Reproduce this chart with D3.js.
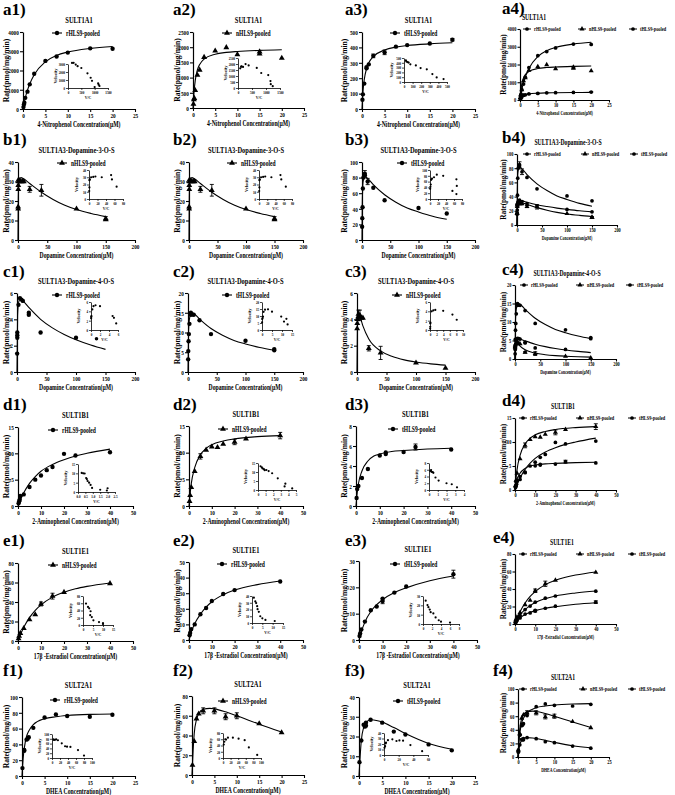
<!DOCTYPE html>
<html><head><meta charset="utf-8">
<script src="https://cdn.jsdelivr.net/npm/d3@7"></script>
<style>
body{margin:0;background:#fff}
svg{display:block}
text{font-family:"Liberation Serif","Times New Roman",serif;font-weight:bold;fill:#000}
</style></head><body>
<svg id="c" width="675" height="795"></svg>
<script>
// ---------------- tick labels ----------------
const T_X25=[0,5,10,15,20,25], T_X200=[0,50,100,150,200], T_X50=[0,10,20,30,40,50];
const T_Y4000=[0,1000,2000,3000,4000], T_Y2500=[0,500,1000,1500,2000,2500], T_Y500=[0,100,200,300,400,500];
const T_Y40=[0,10,20,30,40], T_Y100=[0,20,40,60,80,100], T_Y6=[0,2,4,6], T_Y20=[0,5,10,15,20];
const T_Y15=[0,5,10,15], T_Y8=[0,2,4,6,8], T_Y80=[0,20,40,60,80], T_Y50=[0,10,20,30,40,50], T_Y30=[0,10,20,30];
const I_X1500=[0,500,1000,1500], I_Y3000=[0,1000,2000,3000], I_X80=[0,20,40,60,80], I_X6=[0,2,4,6], I_X15=[0,5,10,15];
const I_X10=[0,2,4,6,8,10], I_X25=[0,0.5,1,1.5,2,2.5], I_X5=[0,1,2,3,4,5], I_X4=[0,1,2,3,4], I_X8=[0,2,4,6,8];
const I_X100=[0,20,40,60,80,100], I_X60=[0,20,40,60];
const LBL_R="rHLS9-pooled", LBL_N="nHLS9-pooled", LBL_T="tHLS9-pooled";

// ---------------- SULT1A1 (4-Nitrophenol) ----------------
const a_r_pts=[[0.1,100],[0.2,230],[0.3,330],[0.5,580],[1,900],[1.5,1280],[2.5,1830],[5,2500],[7.5,2730],[10,2930],[15,3150],[20,3130]];
const a_r_fit=[[0,0],[0.25,300],[0.5,570],[1,980],[1.5,1300],[2.5,1780],[5,2450],[7.5,2780],[10,2960],[15,3150],[20,3250]];
const a_r_vc=[[150,3130],[210,3150],[290,2930],[360,2730],[500,2500],[730,1830],[850,1280],[900,900],[1000,120],[1130,580],[1150,420],[1180,250]];
const a_n_pts=[[0.1,130],[0.2,280],[0.3,320],[0.5,580],[1,1080],[1.5,1250],[2.5,1670],[5,1880],[7.5,1990],[10,1760],[15,1780],[15,1850],[20,1640]];
const a_n_fit=[[0,0],[0.25,560],[0.5,900],[1,1260],[1.5,1430],[2.5,1610],[5,1770],[7.5,1830],[10,1860],[15,1895],[20,1915]];
const a_n_vc=[[80,1640],[110,1780],[130,1800],[180,1760],[270,1990],[380,1880],[670,1670],[830,1250],[1080,1080],[1160,580],[1170,320],[1240,150]];
const a_t_pts=[[0.1,60],[0.2,95],[0.5,165],[1,265],[1,272],[1.5,290],[2.5,345,12],[5,368,15],[7.5,405],[10,415],[15,425],[20,450,8]];
const a_t_fit=[[0,0],[0.1,60],[0.25,125],[0.5,190],[1,262],[1.5,300],[2.5,340],[5,383],[7.5,402],[10,412],[15,423],[20,430]];
const a_t_vc=[[22,450],[28,425],[42,415],[54,405],[74,368],[138,345],[193,290],[265,265],[330,165],[380,95],[460,60]];

// ---------------- SULT1A3 Dopamine-3-O-S ----------------
const b_r_pts=[[0.25,15],[0.5,21],[1,27],[2.5,33],[5,35],[10,33],[20,30],[40,27],[100,22],[150,18.5]];
const b_r_fit=[[0,0],[0.5,24],[1,29],[2.5,33.5],[5,34.5],[10,34],[20,32],[40,28.5],[60,26],[80,23.8],[100,22],[125,20],[150,18.5]];
const b_n_pts=[[0.25,16],[0.25,17],[0.5,26],[0.5,28],[1,30],[1,31],[2.5,30.5],[5,30],[7.5,30],[10,30],[20,26,1.5],[40,25.5,3],[100,16],[150,11,1],[150,10.5]];
const b_n_fit=[[0,0],[0.5,22],[1,27],[2,30.5],[5,32],[10,31.3],[20,29],[40,24.5],[60,20.8],[80,17.8],[100,15.6],[125,13.6],[150,12]];
const b_n_vc=[[0.5,11],[1,16],[1,26],[2,27],[5,30],[10,30.5],[15,31],[30,30],[52,33],[54,27],[65,17]];
const b_t_pts=[[0.25,17],[0.5,28],[1,42],[1.5,66],[2.5,80],[5,85,4],[5,83],[10,75,4],[20,67],[40,51],[100,41],[150,34]];
const b_t_fit=[[0,0],[0.5,45],[1,62],[2,75],[5,81],[10,79],[20,71],[40,58],[60,48.5],[80,41],[100,36],[125,30.5],[150,26.5]];
const b_t_vc=[[0.5,35],[1,42],[2,50],[3,66],[5,70],[10,75],[17,84],[33,80],[56,28],[66,68],[67,45],[66,17]];

// ---------------- SULT1A3 Dopamine-4-O-S ----------------
const c_r_pts=[[0.25,1.4],[0.5,2.6],[0.5,2.8],[0.5,3.0],[2.5,5.1],[5,5.6],[7.5,5.5],[10,5.4],[20,4.5],[20,4.35],[40,3.0],[100,2.6]];
const c_r_fit=[[0,0],[1,4.3],[2.5,5.2],[5,5.55],[10,5.4],[20,4.9],[40,4.0],[60,3.35],[80,2.85],[100,2.45],[125,2.05],[150,1.72]];
const c_r_vc=[[0.03,2.5],[0.05,2.8],[0.1,3.0],[0.3,4.4],[0.55,5.1],[1.0,5.3],[2.0,5.1],[4.8,3.0],[5.1,2.6],[5.6,1.4]];
const c_n_pts=[[0.25,3.3],[0.5,3.7],[1,4.0],[2,4.2],[2.5,4.4,0.3],[5,4.3,0.4],[7.5,4.1],[10,4.1],[20,1.8,0.2],[40,1.45,0.5],[100,0.7],[150,0.3]];
const c_n_fit=[[0,0],[1,3.9],[2.5,4.3],[5,4.2],[10,3.5],[20,2.5],[40,1.6],[60,1.17],[80,0.92],[100,0.76],[125,0.62],[150,0.52]];
const c_n_vc=[[0.05,0.3],[0.08,0.7],[0.1,1.4],[0.12,1.6],[0.5,4.0],[1,4.2],[1.6,4.3],[4,4.1],[6.8,3.3],[8.1,2.2]];
const c_t_pts=[[0.25,3.2],[0.5,5.3],[1,7.8],[1.5,9.6],[2.5,12.2],[5,14.5],[5,15],[7.5,14.6],[10,14.5],[20,13.1],[40,9.6],[100,7.9],[150,5.5],[150,5.8]];
const c_t_fit=[[0,0],[1,10.5],[2.5,13.4],[5,14.6],[10,14.7],[20,13.4],[40,11],[60,9.3],[80,8],[100,7.1],[125,6.2],[150,5.5]];
const c_t_vc=[[0.05,5.5],[0.1,7.8],[0.3,8.5],[0.5,9.6],[0.8,13],[1.5,14.5],[3,14.8],[5,13.1],[9.6,9.6],[11,6],[12.2,8],[12.8,4]];

// ---------------- SULT1B1 (2-Aminophenol) ----------------
const d_r_pts=[[0.25,0.5],[0.5,0.9],[0.75,1.2],[1,1.9],[2.5,2.2],[5,3.6],[7.5,5.0],[10,5.8],[12.5,6.8],[15,7.4],[20,9.9],[25,9.6],[40,10.2]];
const d_r_fit=[[0,0],[1,1.1],[2.5,2.5],[5,4.3],[7.5,5.6],[10,6.6],[15,7.9],[20,8.8],[25,9.5],[30,10],[40,10.8]];
const d_r_vc=[[0.25,10.2],[0.35,10],[0.45,9.9],[0.55,7.5],[0.6,6.9],[0.65,5.9],[0.75,5],[0.85,3.8],[0.95,2.2],[1.5,1.2],[1.95,0.8],[2.0,2.0]];
const d_n_pts=[[0.25,0.9],[0.5,2],[1,3.5],[2.5,6.5],[5,9.3,0.5],[7.5,10.5],[10,11.1],[12.5,11],[15,11.6],[20,12,0.5],[25,12.6],[40,13.2,0.6]];
const d_n_fit=[[0,0],[0.5,2.3],[1,4.2],[2.5,7.2],[5,9.6],[7.5,10.8],[10,11.5],[15,12.2],[20,12.6],[30,13],[40,13.2]];
const d_n_vc=[[0.33,13.2],[0.5,12.6],[0.6,12],[0.77,11.6],[0.88,11],[1.1,11.1],[1.4,10.5],[1.86,9.3],[2.6,6.5],[3.5,2.0],[3.6,3.5],[4.5,0.9]];
const d_t_pts=[[0.25,0.8],[0.5,1.7],[1,2.0],[2.5,2.8],[5,3.7],[10,5.05],[12.5,5.2],[12.5,5.35],[20,5.4],[25,5.9,0.3],[40,5.65]];
const d_t_fit=[[0,0],[0.5,1.3],[1,2.2],[2.5,3.5],[5,4.5],[7.5,5],[10,5.2],[15,5.45],[20,5.55],[30,5.7],[40,5.78]];
const d_t_vc=[[0.15,5.65],[0.24,5.9],[0.28,5.4],[0.42,5.3],[0.5,5.1],[0.74,3.7],[1.1,2.8],[2.0,2.0],[2.6,1.7],[3.2,0.8]];

// ---------------- SULT1E1 (17β-Estradiol) ----------------
const e_r_pts=[[0.25,3],[0.5,4.5],[1,7],[2.5,10],[5,16.5],[7.5,20.5],[10,25],[15,29.5],[20,32],[40,37.5]];
const e_r_fit=[[0,0],[1,5],[2.5,10.5],[5,16.5],[7.5,21],[10,24.5],[15,29],[20,32],[30,35.5],[40,37.8]];
const e_r_vc=[[0.9,37.5],[1.6,32],[2,29.5],[2.5,25],[2.7,20.5],[3.3,16.5],[4,10],[5,7],[6.5,4.5],[11,3]];
const e_n_pts=[[0.25,2.5],[0.5,5],[1,8],[2.5,13],[5,22],[7.5,27],[10,38,2],[15,46,3],[20,50],[40,59]];
const e_n_fit=[[0,0],[1,6],[2.5,14],[5,24],[7.5,31.5],[10,37],[15,45],[20,50],[25,53.5],[30,56],[40,59.5]];
const e_n_vc=[[1.5,59],[2.5,50],[3.1,46],[3.8,38],[3.6,27],[4.4,22],[5.2,13],[8,8],[10,5],[10,2.5]];
const e_t_pts=[[0.25,1.5],[0.5,2.5],[1,4],[2.5,7],[5,11.3],[7.5,12.7],[10,14.8,1],[10,15.7],[15,18],[20,20.3],[40,25,1.5]];
const e_t_fit=[[0,0],[1,3.2],[2.5,6.8],[5,10.8],[7.5,13.4],[10,15.3],[15,18],[20,19.8],[30,22.5],[40,24.3]];
const e_t_vc=[[0.6,25],[1,20.3],[1.2,18],[1.5,15.5],[1.7,12.7],[2.3,11.3],[2.8,7],[3.5,4],[4,2.5],[6,1.5]];

// ---------------- SULT2A1 (DHEA) ----------------
const f_r_pts=[[0.1,10],[0.5,33],[0.5,32],[1,46],[1.25,47],[1.5,49],[2.5,61],[5,74],[7.5,78],[10,76],[15,75],[20,77.5]];
const f_r_fit=[[0,0],[0.25,22],[0.5,35],[1,50],[1.5,57],[2.5,65],[5,72.5],[7.5,75],[10,76.5],[15,78],[20,78.5]];
const f_r_vc=[[3.9,77.5],[5,75],[7.6,76],[10.4,78],[14.8,74],[24.4,61],[32.7,49],[37.6,47],[46,46],[65,33],[80,10]];
const f_n_pts=[[0.1,10],[0.5,34],[1,57],[1.5,62],[2.5,65,3],[5,65,3],[7.5,59,3],[10,60,3],[15,52],[20,43]];
const f_n_fit=[[0,0],[0.25,25],[0.5,42],[1,56],[1.5,62],[2.5,66.5],[4,67.5],[5,67],[7.5,64],[10,60],[15,51.5],[20,43.5]];
const f_n_vc=[[2,43],[3.5,52],[6,60],[8,59],[13,65],[26,65],[41,62],[57,57],[68,34],[90,10]];
const f_t_pts=[[0.1,7],[0.5,18],[1,26],[1.25,25],[1.5,27],[1.5,25.5],[2.5,28.5],[5,27],[7.5,22.5],[10,21],[15,16],[20,13]];
const f_t_fit=[[0,0],[0.25,10],[0.5,18],[1,24.5],[1.5,27],[2.5,28.5],[4,28],[5,27.3],[7.5,24.5],[10,21.5],[15,16.5],[20,13.5]];
const f_t_vc=[[0.7,13],[1.5,16],[2.1,21],[2.7,22.5],[5.4,27],[11.4,28.5],[17,25.5],[21,26.5],[26,26],[36,18],[52,7]];

// ---------------- series ----------------
const S=(name,shape,pts,fit)=>({name,shape,pts,fit});
const A_r=S(LBL_R,"circle",a_r_pts,a_r_fit), A_n=S(LBL_N,"tri",a_n_pts,a_n_fit), A_t=S(LBL_T,"circle",a_t_pts,a_t_fit);
const B_r=S(LBL_R,"circle",b_r_pts,b_r_fit), B_n=S(LBL_N,"tri",b_n_pts,b_n_fit), B_t=S(LBL_T,"circle",b_t_pts,b_t_fit);
const C_r=S(LBL_R,"circle",c_r_pts,c_r_fit), C_n=S(LBL_N,"tri",c_n_pts,c_n_fit), C_t=S(LBL_T,"circle",c_t_pts,c_t_fit);
const D_r=S(LBL_R,"circle",d_r_pts,d_r_fit), D_n=S(LBL_N,"tri",d_n_pts,d_n_fit), D_t=S(LBL_T,"circle",d_t_pts,d_t_fit);
const E_r=S(LBL_R,"circle",e_r_pts,e_r_fit), E_n=S(LBL_N,"tri",e_n_pts,e_n_fit), E_t=S(LBL_T,"circle",e_t_pts,e_t_fit);
const F_r=S(LBL_R,"circle",f_r_pts,f_r_fit), F_n=S(LBL_N,"tri",f_n_pts,f_n_fit), F_t=S(LBL_T,"circle",f_t_pts,f_t_fit);

const XT_A="4-Nitrophenol Concentration(μM)", XT_B="Dopamine Concentration(μM)", XT_D="2-Aminophenol Concentration(μM)",
      XT_E="17β -Estradiol Concentration(μM)", XT_F="DHEA Concentration(μM)";
const TI_A="SULT1A1", TI_B="SULT1A3-Dopamine-3-O-S", TI_C="SULT1A3-Dopamine-4-O-S", TI_D="SULT1B1", TI_E="SULT1E1", TI_F="SULT2A1";

// ---------------- layout ----------------
const YTX=[6,177,344,503];
const panels=[
 {lab:"a1)",lp:[3,15],box:[23,32,135,109],xt:T_X25,yt:T_Y4000,ti:TI_A,xti:XT_A,ser:[A_r],leg:[57,33],col:0,
  ins:{box:[68,64,108,88],xt:I_X1500,yt:I_Y3000,d:a_r_vc}},
 {lab:"a2)",lp:[173,15],box:[193,32,304,108],xt:T_X25,yt:T_Y2500,ti:TI_A,xti:XT_A,ser:[A_n],leg:[227,33],col:1,
  ins:{box:[238,58,280,88],xt:I_X1500,yt:T_Y2500,d:a_n_vc}},
 {lab:"a3)",lp:[345,15],box:[362,32,475,109],xt:T_X25,yt:T_Y500,ti:TI_A,xti:XT_A,ser:[A_t],leg:[395,33],col:2,
  ins:{box:[404,58,447,82],xt:T_Y500,yt:T_Y500,d:a_t_vc}},
 {lab:"a4)",lp:[502,14],box:[520,29,609,100],xt:T_X25,yt:T_Y4000,ti:TI_A,tx:534,xti:XT_A,ser:[A_r,A_n,A_t],legY:29,legX:[527,582,633],col:3},

 {lab:"b1)",lp:[3,145],box:[18,162,135,240],xt:T_X200,yt:T_Y40,ti:TI_B,xti:XT_B,ser:[B_n],leg:[62,163],col:0,
  ins:{box:[89,170,123,199],xt:I_X80,yt:T_Y40,d:b_n_vc}},
 {lab:"b2)",lp:[173,145],box:[189,162,303,240],xt:T_X200,yt:T_Y40,ti:TI_B,xti:XT_B,ser:[B_n],leg:[232,163],col:1,
  ins:{box:[259,170,292,199],xt:I_X80,yt:T_Y40,d:b_n_vc}},
 {lab:"b3)",lp:[345,145],box:[362,162,475,240],xt:T_X200,yt:T_Y100,ti:TI_B,xti:XT_B,ser:[B_t],leg:[402,163],col:2,
  ins:{box:[430,170,462,199],xt:I_X80,yt:T_Y100,d:b_t_vc}},
 {lab:"b4)",lp:[502,143],box:[517,154,617,225],xt:T_X200,yt:T_Y100,ti:TI_B,tx:568,xti:XT_B,ser:[B_r,B_n,B_t],legY:154,legX:[527,585,634],col:3},

 {lab:"c1)",lp:[3,277],box:[17,293,135,372],xt:T_X200,yt:T_Y6,ti:TI_C,xti:XT_B,ser:[C_r],leg:[57,295],col:0,
  ins:{box:[91,302,118,330],xt:I_X6,yt:T_Y6,d:c_r_vc,vcMark:true}},
 {lab:"c2)",lp:[173,277],box:[188,293,303,372],xt:T_X200,yt:T_Y20,ti:TI_C,xti:XT_B,ser:[C_t],leg:[227,295],col:1,
  ins:{box:[262,302,292,330],xt:I_X15,yt:T_Y20,d:c_t_vc}},
 {lab:"c3)",lp:[345,277],box:[357,293,475,372],xt:T_X200,yt:T_Y6,ti:TI_C,xti:XT_B,ser:[C_n],leg:[397,295],col:2,
  ins:{box:[430,302,463,330],xt:I_X10,yt:T_Y6,d:c_n_vc}},
 {lab:"c4)",lp:[502,275],box:[515,285,616,359],xt:T_X200,yt:T_Y20,ti:TI_C,tx:567,xti:XT_B,ser:[C_r,C_n,C_t],legY:285,legX:[524,580,630],col:3},

 {lab:"d1)",lp:[3,410],box:[18,427,133,506],xt:T_X50,yt:T_Y15,ti:TI_D,xti:XT_D,ser:[D_r],leg:[53,430],col:0,
  ins:{box:[78,464,115,492],xt:I_X25,xf:".1f",yt:T_Y15,d:d_r_vc}},
 {lab:"d2)",lp:[173,410],box:[189,426,303,506],xt:T_X50,yt:T_Y15,ti:TI_D,xti:XT_D,ser:[D_n],leg:[223,429],col:1,
  ins:{box:[258,463,296,490],xt:I_X5,yt:T_Y15,d:d_n_vc}},
 {lab:"d3)",lp:[345,410],box:[356,426,475,506],xt:T_X50,yt:T_Y8,ti:TI_D,xti:XT_D,ser:[D_t],leg:[393,429],col:2,
  ins:{box:[429,463,464,490],xt:I_X4,yt:T_Y8,d:d_t_vc}},
 {lab:"d4)",lp:[502,406],box:[515,418,616,490],xt:T_X50,yt:T_Y15,ti:TI_D,tx:563,xti:XT_D,ser:[D_r,D_n,D_t],legY:418,legX:[523,580,632],col:3},

 {lab:"e1)",lp:[3,546],box:[18,563,133,641],xt:T_X50,yt:T_Y80,ti:TI_E,xti:XT_E,ser:[E_n],leg:[53,565],col:0,
  ins:{box:[83,596,113,625],xt:I_X15,yt:T_Y80,d:e_n_vc}},
 {lab:"e2)",lp:[173,546],box:[189,562,303,640],xt:T_X50,yt:T_Y50,ti:TI_E,xti:XT_E,ser:[E_r],leg:[222,564],col:1,
  ins:{box:[252,596,283,623],xt:I_X15,yt:T_Y40,d:e_r_vc}},
 {lab:"e3)",lp:[345,546],box:[359,561,477,640],xt:T_X50,yt:T_Y30,ti:TI_E,xti:XT_E,ser:[E_t],leg:[395,564],col:2,
  ins:{box:[423,596,459,624],xt:I_X8,yt:T_Y30,d:e_t_vc}},
 {lab:"e4)",lp:[493,543],box:[515,554,616,624],xt:T_X50,yt:T_Y80,ti:TI_E,tx:562,xti:XT_E,ser:[E_r,E_n,E_t],legY:554,legX:[523,580,632],col:3},

 {lab:"f1)",lp:[3,676],box:[22,697,135,776],xt:T_X25,yt:T_Y100,ti:TI_F,xti:XT_F,ser:[F_r],leg:[55,700],col:0,
  ins:{box:[52,734,92,758],xt:I_X100,yt:T_Y100,d:f_r_vc}},
 {lab:"f2)",lp:[173,676],box:[192,696,304,775],xt:T_X25,yt:T_Y80,ti:TI_F,xti:XT_F,ser:[F_n],leg:[223,701],col:1,
  ins:{box:[223,733,261,758],xt:I_X100,yt:T_Y80,d:f_n_vc}},
 {lab:"f3)",lp:[345,676],box:[359,697,475,776],xt:T_X25,yt:T_Y40,ti:TI_F,xti:XT_F,ser:[F_t],leg:[398,701],col:2,
  ins:{box:[384,733,428,755],xt:I_X60,yt:T_Y40,d:f_t_vc}},
 {lab:"f4)",lp:[493,676],box:[518,689,609,757],xt:T_X25,yt:T_Y100,ti:TI_F,tx:563,xti:XT_F,ser:[F_r,F_n,F_t],legY:689,legX:[523,583,632],col:3}
];

// ---------------- drawing ----------------
const svg=d3.select("#c");
const CZ=0.75;

function symPath(shape,size){
  return d3.symbol().type(shape==="tri"?d3.symbolTriangle:d3.symbolCircle).size(size)();
}
function styleAxis(a,fs,sw){
  a.attr("font-size",null).attr("font-family",null);
  a.selectAll("text").attr("class","cz").style("font-size",fs+"px");
  a.select(".domain").attr("stroke-width",sw);
  a.selectAll(".tick line").attr("stroke-width",sw*0.9);
}
function fmt(f){return f?d3.format(f):d3.format("d");}

function drawPanel(p){
  const [L,T,R,B]=p.box;
  const small=p.col===3;
  const x=d3.scaleLinear().domain([p.xt[0],p.xt[p.xt.length-1]]).range([L,R]);
  const y=d3.scaleLinear().domain([p.yt[0],p.yt[p.yt.length-1]]).range([B,T]);
  const g=svg.append("g");
  const fsT=small?5.8:7, fsAx=small?5.2:7.6, fsTi=small?7.6:8.6, fsLeg=small?5.8:7.4;

  const xa=g.append("g").attr("transform",`translate(0,${B})`)
    .call(d3.axisBottom(x).tickValues(p.xt).tickSize(small?2.5:3).tickSizeOuter(0).tickPadding(small?0.8:1.2).tickFormat(fmt()));
  const ya=g.append("g").attr("transform",`translate(${L},0)`)
    .call(d3.axisLeft(y).tickValues(p.yt).tickSize(small?2.5:3).tickSizeOuter(0).tickPadding(1.2).tickFormat(fmt()));
  styleAxis(xa,fsT,1.2); styleAxis(ya,fsT,1.2);

  // panel label
  svg.append("text").attr("x",p.lp[0]).attr("y",p.lp[1]).style("font-size","17px").text(p.lab);
  // title
  svg.append("text").attr("class","cz").attr("x",p.tx||(L+R)/2).attr("y",T-9).attr("text-anchor","middle")
     .style("font-size",fsTi+"px").text(p.ti);
  // axis titles
  svg.append("text").attr("class","cz").attr("x",(L+R)/2).attr("y",B+(small?14.5:18)).attr("text-anchor","middle")
     .style("font-size",fsAx+"px").text(p.xti);
  svg.append("text").attr("transform",`translate(${YTX[p.col]},${(T+B)/2}) rotate(-90)`).attr("text-anchor","middle")
     .attr("dy","0.35em").style("font-size",(small?7.2:7.6)+"px").text("Rate(pmol/mg/min)");

  const line=d3.line().x(d=>x(d[0])).y(d=>y(d[1])).curve(d3.curveMonotoneX);
  const msz=small?11:15;
  p.ser.forEach(s=>{
    g.append("path").attr("d",line(s.fit)).attr("fill","none").attr("stroke","#000").attr("stroke-width",1.1);
    s.pts.forEach(d=>{
      if(d.length>2){
        const y1=y(d[1]-d[2]), y2=y(d[1]+d[2]), cx=x(d[0]);
        g.append("path").attr("d",`M${cx},${y1}V${y2}M${cx-2},${y1}H${cx+2}M${cx-2},${y2}H${cx+2}`)
          .attr("stroke","#000").attr("stroke-width",0.9).attr("fill","none");
      }
      g.append("path").attr("d",symPath(s.shape,msz)).attr("transform",`translate(${x(d[0])},${y(d[1])})`).attr("fill","#000");
    });
  });

  // legend
  if(!small){
    const [mx,my]=p.leg, s=p.ser[0];
    g.append("path").attr("d",`M${mx-5},${my}H${mx+5}`).attr("stroke","#000").attr("stroke-width",1.1);
    g.append("path").attr("d",symPath(s.shape,15)).attr("transform",`translate(${mx},${my})`);
    g.append("text").attr("class","cz").attr("x",mx+9).attr("y",my).attr("dy","0.35em").style("font-size",fsLeg+"px").text(s.name);
  } else {
    p.ser.forEach((s,i)=>{
      const mx=p.legX[i], my=p.legY;
      g.append("path").attr("d",`M${mx-4},${my}H${mx+4}`).attr("stroke","#000").attr("stroke-width",1);
      g.append("path").attr("d",symPath(s.shape,11)).attr("transform",`translate(${mx},${my})`);
      g.append("text").attr("class","cz").attr("x",mx+7).attr("y",my).attr("dy","0.35em").style("font-size",fsLeg+"px").text(s.name);
    });
  }

  // inset
  if(p.ins){
    const q=p.ins, [l,t,r,b]=q.box;
    const ix=d3.scaleLinear().domain([q.xt[0],q.xt[q.xt.length-1]]).range([l,r]);
    const iy=d3.scaleLinear().domain([q.yt[0],q.yt[q.yt.length-1]]).range([b,t]);
    const ia=g.append("g").attr("transform",`translate(0,${b})`)
      .call(d3.axisBottom(ix).tickValues(q.xt).tickSize(2).tickSizeOuter(0).tickPadding(0.8).tickFormat(fmt(q.xf)));
    const ib=g.append("g").attr("transform",`translate(${l},0)`)
      .call(d3.axisLeft(iy).tickValues(q.yt).tickSize(2).tickSizeOuter(0).tickPadding(0.8).tickFormat(fmt()));
    styleAxis(ia,4.3,0.8); styleAxis(ib,4.3,0.8);
    q.d.forEach(d=>{
      g.append("circle").attr("cx",ix(d[0])).attr("cy",iy(d[1])).attr("r",1.1).attr("fill","#000");
    });
    g.append("text").attr("transform",`translate(${l-13},${(t+b)/2}) rotate(-90)`).attr("text-anchor","middle")
      .attr("dy","0.35em").style("font-size","4.4px").text("Velocity");
    const vx=(l+r)/2;
    g.append("text").attr("class","cz").attr("x",vx).attr("y",b+10.5).attr("text-anchor","middle").style("font-size","5px").text("V/C");
    if(q.vcMark){
      g.append("path").attr("d",symPath("circle",10)).attr("transform",`translate(${vx-8},${b+8.8})`);
    }
  }
}

panels.forEach(drawPanel);

// horizontal condensing of the text, as in the source figure
svg.selectAll("text.cz").each(function(){
  const w=this.getComputedTextLength();
  if(w>0){ this.setAttribute("textLength",w*CZ); this.setAttribute("lengthAdjust","spacingAndGlyphs"); }
});
</script>
</body></html>
